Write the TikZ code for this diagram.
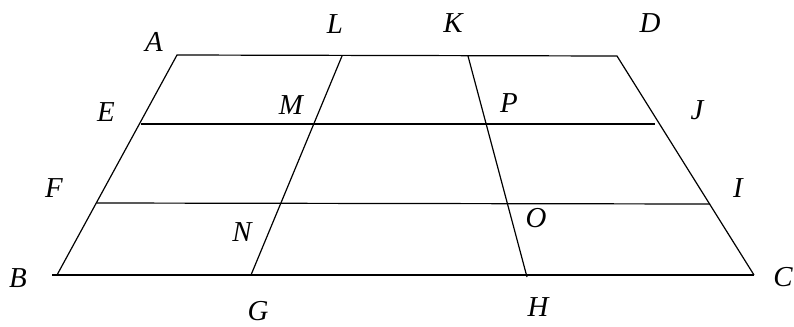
\documentclass[tikz,border=0pt]{standalone}
\usepackage{fontspec}
\setmainfont{Liberation Serif}
\tikzset{
  ptlabel/.style={font=\fontsize{29}{33}\selectfont\itshape, inner sep=0pt},
  side/.style={line width=1.2bp},
  midline/.style={line width=2.2bp}
}
\begin{document}
\begin{tikzpicture}[x=1bp,y=-1bp]
  \useasboundingbox (0,0) rectangle (794,326);
  % corners
  \coordinate (A) at (177,55);
  \coordinate (D) at (617,56);
  \coordinate (C) at (754,275);
  \coordinate (B) at (57,275);
  \coordinate (Bx) at (52,275);
  % points on the sides
  \coordinate (L) at (342,56);
  \coordinate (K) at (468,56);
  \coordinate (G) at (251,275);
  \coordinate (H) at (527,275);
  \coordinate (Hx) at (527,277);
  \coordinate (E) at (141,124);
  \coordinate (J) at (655,124);
  \coordinate (F) at (97,203);
  \coordinate (I) at (710,204);
  % labels
  \node[ptlabel] (lA) at (154,42) {A};
  \node[ptlabel] (lL) at (335,24) {L};
  \node[ptlabel] (lK) at (453,23) {K};
  \node[ptlabel] (lD) at (650,23) {D};
  \node[ptlabel] (lE) at (106,112) {E};
  \node[ptlabel] (lM) at (291,105) {M};
  \node[ptlabel] (lP) at (509,103) {P};
  \node[ptlabel] (lJ) at (697,110) {J};
  \node[ptlabel] (lF) at (54,188) {F};
  \node[ptlabel] (lI) at (738,188) {I};
  \node[ptlabel] (lN) at (242,232) {N};
  \node[ptlabel] (lO) at (536,218) {O};
  \node[ptlabel] (lB) at (18,278) {B};
  \node[ptlabel] (lG) at (258,311) {G};
  \node[ptlabel] (lH) at (538,307) {H};
  \node[ptlabel] (lC) at (783,277) {C};
  % trapezoid
  \draw[side] (B) -- (A) -- (D) -- (C);
  \draw[side] (Bx) -- (C);
  % grid lines
  \draw[midline] (E) -- (J);
  \draw[side] (F) -- (I);
  \draw[side] (L) -- (G);
  \draw[side] (K) -- (Hx);
\end{tikzpicture}
\end{document}
